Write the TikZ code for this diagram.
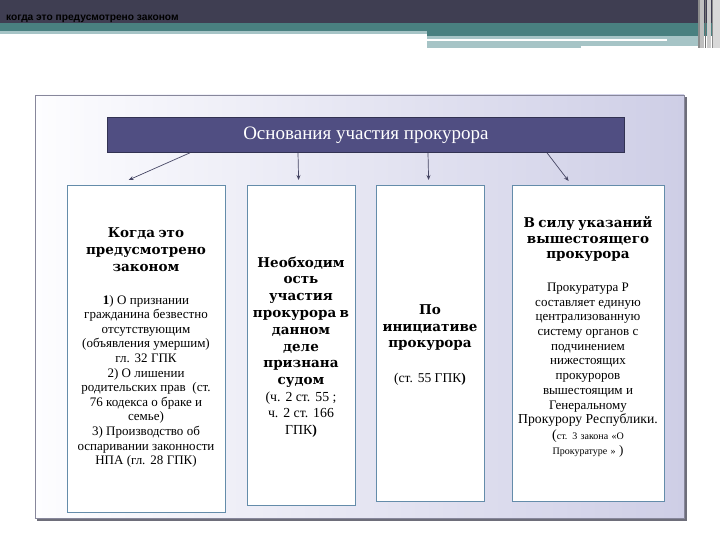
\documentclass[tikz,border=0pt]{standalone}
\usepackage{fontspec}
\setmainfont{Liberation Serif}
\newfontfamily\dvserif{DejaVu Serif}
\newfontfamily\lsans{Liberation Sans}
\usetikzlibrary{calc,arrows.meta}
\definecolor{hdark}{RGB}{63,62,82}
\definecolor{hteal}{RGB}{73,128,128}
\definecolor{hlight}{RGB}{166,196,198}
\definecolor{panelL}{RGB}{253,253,255}
\definecolor{panelR}{RGB}{206,206,230}
\definecolor{panelB}{RGB}{135,135,155}
\definecolor{panelS}{RGB}{110,110,122}
\definecolor{ttlfill}{RGB}{80,78,130}
\definecolor{ttlline}{RGB}{50,50,82}
\definecolor{boxline}{RGB}{100,140,170}
\definecolor{arrc}{RGB}{70,70,100}
\newcommand\HeadF[1]{\fontsize{13.5}{#1}\selectfont\dvserif\bfseries}
\newcommand\BodyF[1]{\fontsize{13}{#1}\selectfont\rmfamily\mdseries}
\tikzset{
  x=1pt,y=-1pt,
  cbox/.style={draw=boxline,line width=1.2pt,fill=white,anchor=north west,inner sep=0pt},
  ttlbox/.style={draw=ttlline,line width=0.8pt,fill=ttlfill,anchor=north west,inner sep=0pt,
    minimum width=517pt,minimum height=35pt,text=white,font=\fontsize{19}{22}\selectfont},
  btxt/.style={anchor=north,inner sep=0pt,align=center},
  arr/.style={draw=arrc,line width=0.7pt,-{Stealth[length=5pt,width=4pt]}}
}
\begin{document}
\begin{tikzpicture}
\useasboundingbox (0,0) rectangle (720,540);
% header band
\fill[hdark] (0,0) rectangle (720,24);
\fill[hteal] (0,23) rectangle (720,31);
\fill[hlight] (0,31) rectangle (427,34);
\fill[hteal] (427,31) rectangle (720,36);
\fill[hlight] (427,36) rectangle (698,46);
\fill[hlight] (427,46) rectangle (581,48);
\fill[white] (427,39) rectangle (667,41);
\fill[black!45] (698,0) rectangle (700,48);
\fill[black!25] (700,0) rectangle (704,48);
\fill[black!55] (705,0) rectangle (706,48);
\fill[black!20] (707,0) rectangle (711,48);
\fill[black!45] (712,0) rectangle (713,48);
\fill[black!15] (713,0) rectangle (720,48);
\node[anchor=west,inner sep=0pt,text=black,font=\lsans\bfseries\fontsize{10.2}{11}\selectfont] (hd) at (6,19) {когда это предусмотрено законом};
% panel
\fill[panelS] (37,97) rectangle (687,521);
\shade[left color=panelL,right color=panelR] (35,95) rectangle (684,518);
\draw[panelB,line width=0.8pt] (35,95) rectangle (684,518);
% title
\node[ttlbox] (ttl) at (107,117) {Основания участия прокурора};
% boxes
\node[cbox,minimum width=158pt,minimum height=327pt] (b1) at (67,185) {};
\node[cbox,minimum width=108pt,minimum height=320pt] (b2) at (247,185) {};
\node[cbox,minimum width=108pt,minimum height=316pt] (b3) at (376,185) {};
\node[cbox,minimum width=152pt,minimum height=316pt] (b4) at (512,185) {};
% texts
\node[btxt,text width=156pt] (t1) at (146,227.5) {\HeadF{17}Когда это\\предусмотрено\\законом\par\vspace{18pt}
\BodyF{14.6}\textbf{1}) О признании\\гражданина безвестно\\отсутствующим\\(объявления умершим)\\гл. 32 ГПК\\2) О лишении\\родительских прав~ (ст.\\76 кодекса о браке и\\семье)\\3) Производство об\\оспаривании законности\\НПА (гл. 28 ГПК)\par};
\node[btxt,text width=106pt] (t2) at (301,256.5) {\HeadF{16.8}Необходим\\ость\\участия\\прокурора в\\данном\\деле\\признана\\судом\par
\fontsize{13.8}{16.5}\selectfont\rmfamily\mdseries (ч. 2 ст. 55 ;\\ч. 2 ст. 166\\ГПК\textbf{)}\par};
\node[btxt,text width=106pt] (t3) at (430,304.5) {\HeadF{16.5}По\\инициативе\\прокурора\par\vspace{19pt}
\fontsize{13.5}{16}\selectfont\rmfamily\mdseries (ст. 55 ГПК\textbf{)}\par};
\node[btxt,text width=150pt] (t4) at (588,216.5) {\HeadF{15.5}В силу указаний\\вышестоящего\\прокурора\par\vspace{18pt}
\BodyF{14.7}Прокуратура Р\\составляет единую\\централизованную\\систему органов с\\подчинением\\нижестоящих\\прокуроров\\вышестоящим и\\Генеральному\\{\fontsize{13.7}{14.7}\selectfont Прокурору Республики.}\par
\fontsize{10}{15.5}\selectfont{\fontsize{14}{15.5}\selectfont(}ст. 3 закона «О\\Прокуратуре » {\fontsize{13}{15.5}\selectfont)}\par};
% connectors
\draw[arr] ($(ttl.south west)+(83,0)$) -- ($(b1.north)+(-18,-5)$);
\draw[arr] ($(ttl.south west)+(191,0)$) -- ($(b2.north)+(-3,-5)$);
\draw[arr] ($(ttl.south west)+(321,0)$) -- ($(b3.north)+(-2,-5)$);
\draw[arr] ($(ttl.south west)+(440,0)$) -- ($(b4.north)+(-20,-4)$);
\end{tikzpicture}
\end{document}
